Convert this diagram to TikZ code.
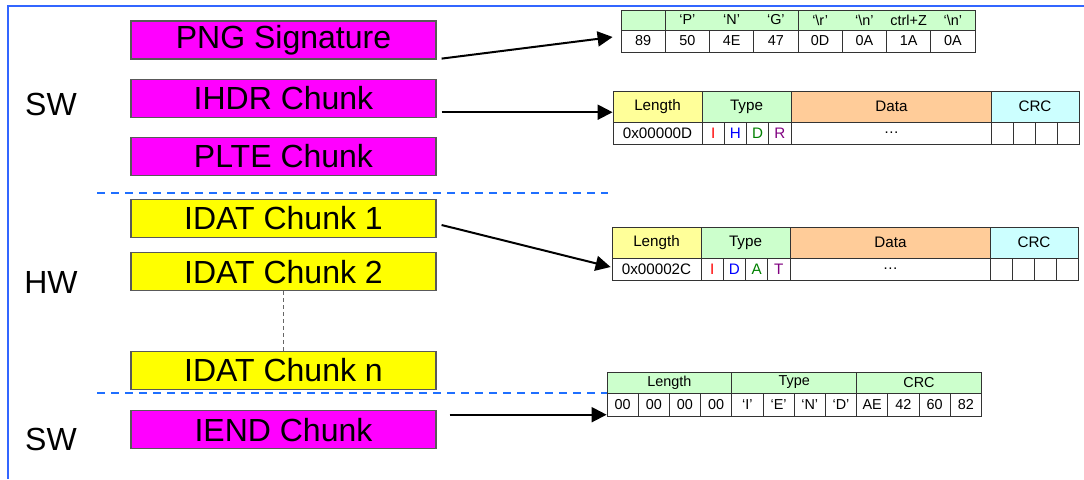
\documentclass[tikz,border=0pt]{standalone}
\usepackage{fontspec}
\setmainfont{Liberation Sans}
\usetikzlibrary{positioning,arrows.meta}

\definecolor{chunkpink}{HTML}{FF00FF}
\definecolor{chunkyellow}{HTML}{FFFF00}
\definecolor{frameblue}{HTML}{3366FF}
\definecolor{splitblue}{HTML}{1F6FFF}
\definecolor{hdrgreen}{HTML}{CCFFCC}
\definecolor{lenyellow}{HTML}{FFFF99}
\definecolor{dataorange}{HTML}{FFCC99}
\definecolor{crccyan}{HTML}{CCFFFF}

\begin{document}
\begin{tikzpicture}[
  x=0.5pt, y=-0.5pt,
  chunk/.style={draw=black!65, line width=0.6pt, minimum width=152.5pt,
                minimum height=19pt, inner sep=0pt, font=\fontsize{16}{16}\selectfont},
  side/.style={inner sep=0pt, font=\fontsize{16}{16}\selectfont},
  cell/.style={draw=black!80, line width=0.4pt, inner sep=0pt, font=\fontsize{7.2}{8}\selectfont},
  bigcell/.style={cell, font=\fontsize{7.6}{8}\selectfont},
  flow/.style={-{Triangle[length=7.5pt,width=7.5pt]}, line width=1pt},
  split/.style={dashed, dash pattern=on 4pt off 3pt, splitblue, line width=1pt},
]
  \useasboundingbox (0,0) rectangle (1084,479);
  \draw[frameblue, line width=1pt] (1084,6) -- (8,6) -- (8,479);

  \node[side] (sw1) at (51,104) {SW};
  \node[side] (hw) at (51,282.5) {HW};
  \node[side] (sw2) at (51,439.5) {SW};

  \node[chunk, fill=chunkpink] (sig) at (283.5,40) {PNG Signature};
  \node[chunk, fill=chunkpink, below=9.5pt of sig] (ihdr) {IHDR Chunk};
  \node[chunk, fill=chunkpink, below=9.5pt of ihdr] (plte) {PLTE Chunk};
  \node[chunk, fill=chunkyellow] (idat1) at (283.5,218.5) {IDAT Chunk 1};
  \node[chunk, fill=chunkyellow, below=7pt of idat1] (idat2) {IDAT Chunk 2};
  \node[chunk, fill=chunkyellow] (idatn) at (283.5,370.5) {IDAT Chunk n};
  \node[chunk, fill=chunkpink, below=10pt of idatn] (iend) {IEND Chunk};

  \draw[black!60, dashed, dash pattern=on 2pt off 1.5pt, line width=0.5pt] (idat2) -- (idatn);
  \draw[split] (97,193) -- (608,193);
  \draw[split] (97,393) -- (607,393);

  % signature bytes
  \node[cell, fill=hdrgreen, minimum width=22pt, minimum height=10pt] (sigh0) at (643,20) {};
  \node[cell, fill=hdrgreen, minimum width=66.5pt, minimum height=10pt] (sigh1) at (731.5,20) {};
  \node[cell, fill=hdrgreen, minimum width=88.5pt, minimum height=10pt] (sigh2) at (886.5,20) {};
  \foreach \t [count=\i] in {‘P’,‘N’,‘G’,‘\textbackslash r’,‘\textbackslash n’,ctrl+Z,‘\textbackslash n’}
    \node[inner sep=0pt, font=\fontsize{7.2}{8}\selectfont] (sigt\i) at (621+44.25*\i+22.125,20) {\t};
  \foreach \v [count=\i from 0] in {89,50,4E,47,0D,0A,1A,0A}
    \node[cell, minimum width=22.125pt, minimum height=11pt] (sigv\i) at (621+44.25*\i+22.125,41) {\v};

  % IHDR and IDAT layouts
  \foreach \tn/\tx/\ty/\len/\la/\lb/\lc/\ld in {hd/613/91/0x00000D/I/H/D/R, dt/612/227/0x00002C/I/D/A/T}{
    \node[bigcell, fill=lenyellow, minimum width=44.5pt, minimum height=15.5pt] (\tn-len) at (\tx+44.5,\ty+15.5) {Length};
    \node[bigcell, fill=hdrgreen, minimum width=44.5pt, minimum height=15.5pt] (\tn-type) at (\tx+133.5,\ty+15.5) {Type};
    \node[bigcell, fill=dataorange, minimum width=100pt, minimum height=15.5pt] (\tn-data) at (\tx+278.5,\ty+15.5) {Data};
    \node[bigcell, fill=crccyan, minimum width=44pt, minimum height=15.5pt] (\tn-crc) at (\tx+422,\ty+15.5) {CRC};
    \node[bigcell, minimum width=44.5pt, minimum height=11pt] (\tn-lv) at (\tx+44.5,\ty+42) {\len};
    \foreach \c/\col [count=\k from 0] in {\la/red,\lb/blue,\lc/green!50!black,\ld/violet}
      \node[bigcell, minimum width=11.125pt, minimum height=11pt, text=\col] (\tn-t\k) at (\tx+89+22.25*\k+11.125,\ty+42) {\c};
    \node[bigcell, minimum width=100pt, minimum height=11pt] (\tn-dv) at (\tx+278.5,\ty+42) {\dots};
    \foreach \k in {0,...,3}
      \node[bigcell, minimum width=11pt, minimum height=11pt] (\tn-c\k) at (\tx+378+22*\k+11,\ty+42) {};
  }

  % IEND bytes
  \foreach \t/\f [count=\i from 0] in {Length/len, Type/typ, CRC/crc}
    \node[cell, fill=hdrgreen, minimum width=62.4pt, minimum height=10.5pt] (end-\f) at (607+124.8*\i+62.4,382.5) {\t};
  \foreach \v [count=\i from 0] in {00,00,00,00,‘I’,‘E’,‘N’,‘D’,AE,42,60,82}
    \node[cell, minimum width=15.6pt, minimum height=11.5pt] (endv\i) at (607+31.2*\i+15.6,404.5) {\v};

  \coordinate (ihdr-out) at ([shift={(2.5pt,-7pt)}]ihdr.east);
  \coordinate (iend-out) at ([shift={(6.5pt,7.5pt)}]iend.east);
  \draw[flow] ([shift={(2.5pt,0.5pt)}]sig.south east) -- ([shift={(-4pt,2pt)}]sigv0.west);
  \draw[flow] (ihdr-out) -- (ihdr-out -| hd-len.west);
  \draw[flow] ([shift={(2.5pt,-3.25pt)}]idat1.east) -- ([shift={(-0.5pt,1pt)}]dt-lv.west);
  \draw[flow] (iend-out) -- (iend-out -| endv0.west);
\end{tikzpicture}
\end{document}
